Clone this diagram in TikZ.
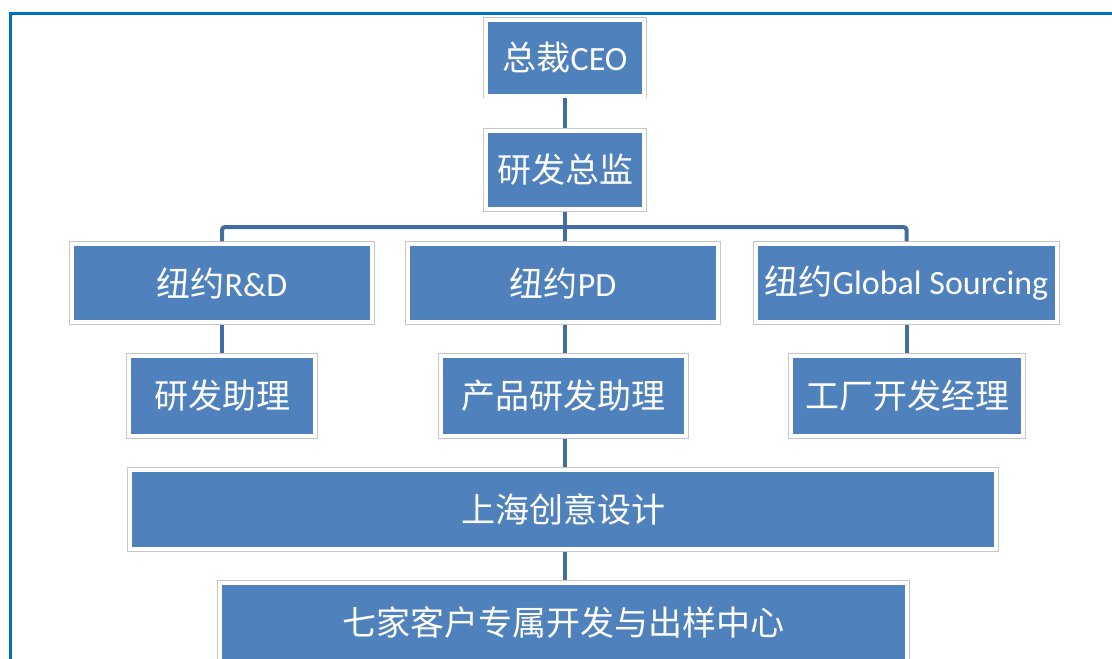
\documentclass[tikz,border=0pt]{standalone}
\usepackage{fontspec}
\setmainfont{Carlito}
\newfontfamily\cjk{Noto Sans CJK SC}
\usetikzlibrary{positioning}
\definecolor{boxblue}{RGB}{79,129,189}
\definecolor{linkblue}{RGB}{68,108,164}
\definecolor{frameblue}{RGB}{0,112,192}

\begin{document}
\begin{tikzpicture}[x=1pt,y=-1pt,
        orgbox/.style={rectangle, fill=boxblue, draw=white, line width=4pt,
            preaction={draw=black!22, line width=5.5pt}, line join=miter,
            inner sep=0pt, outer sep=2.75pt, text=white,
            font=\fontsize{34}{40}\selectfont},
        link/.style={draw=linkblue, line width=4pt}]
                \useasboundingbox (0,0) rectangle (1112,659);
                \clip (0,0) rectangle (1112,659);
                \draw[draw=frameblue, line width=3pt] (10,700) -- (10,13.5) -- (1120,13.5);
                \node[orgbox, minimum width=158pt, minimum height=76pt] (ceo) at (565,57.5) {{\cjk 总裁}CEO};
                \node[orgbox, minimum width=158pt, minimum height=78pt] (dir) at (565,170) {\cjk 研发总监};
                \node[orgbox, minimum width=300pt, minimum height=78pt] (rd) at (222,283) {{\cjk 纽约}R\&D};
                \node[orgbox, minimum width=310pt, minimum height=78pt] (pd) at (563,283) {{\cjk 纽约}PD};
                \node[orgbox, minimum width=301pt, minimum height=78pt] (gs) at (906.5,283) {{\cjk 纽约}Global Sourcing};
                \node[orgbox, minimum width=186pt, minimum height=80pt] (rdhelp) at (222,396) {\cjk 研发助理};
                \node[orgbox, minimum width=245pt, minimum height=80pt] (pdhelp) at (563.5,396) {\cjk 产品研发助理};
                \node[orgbox, minimum width=232pt, minimum height=80pt] (factory) at (907,396) {\cjk 工厂开发经理};
                \node[orgbox, minimum width=866pt, minimum height=79pt] (shanghai) at (563,509.5) {\cjk 上海创意设计};
                \node[orgbox, minimum width=687pt, minimum height=79pt] (clients) at (563.5,622.5) {\cjk 七家客户专属开发与出样中心};
                \coordinate (bus) at (565,227);
                \draw[link] (ceo.south) -- (dir.south |- dir.north);
                \draw[link] (dir.south) -- (bus) -- (bus |- pd.north);
                \draw[link, rounded corners=3pt] (rd.north) |- (bus) -| (gs.north);
                \draw[link] (rd.south) -- (rdhelp.north);
                \draw[link] (gs.south) -- (gs.south |- factory.north);
                \draw[link] (bus |- pd.south) -- (bus |- pdhelp.north);
                \draw[link] (bus |- pdhelp.south) -- (bus |- shanghai.north);
                \draw[link] (bus |- shanghai.south) -- (bus |- clients.north);
            \end{tikzpicture}
\end{document}
